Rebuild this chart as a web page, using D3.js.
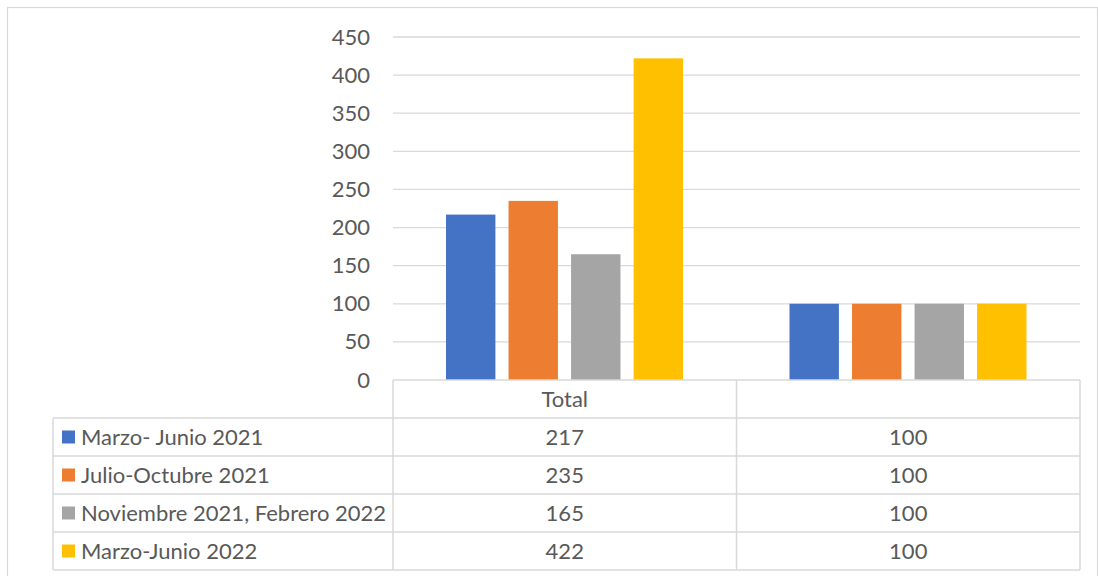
<!DOCTYPE html>
<html>
<head>
<meta charset="utf-8">
<script src="https://cdn.jsdelivr.net/npm/d3@7"></script>
<style>
  body { margin: 0; background: #fff; }
  svg text { font-family: Lato, "Open Sans", sans-serif; fill: #595959; }
</style>
</head>
<body>
<svg id="chart"></svg>
<script>
let categories = ['Total', '']
let seriesNames = ['Marzo- Junio 2021', 'Julio-Octubre 2021', 'Noviembre 2021, Febrero 2022', 'Marzo-Junio 2022']
let seriesValues = [
    [217, 100],
    [235, 100],
    [165, 100],
    [422, 100],
]
let seriesColors = ['#4472C4', '#ED7D31', '#A5A5A5', '#FFC000']
let yTicks = [0, 50, 100, 150, 200, 250, 300, 350, 400, 450]

let opts = {
    width: 1098,
    height: 576,
    left: 393,
    right: 1080,
    top: 37,
    bottom: 380,
    rowHeight: 38,
    legendLeft: 53,
    fontSize: 22,
}

let svg = d3.select('#chart')
    .attr('width', opts.width)
    .attr('height', opts.height)

// chart frame
svg.append('rect')
    .attr('x', 7.5).attr('y', 7.5)
    .attr('width', opts.width - 8).attr('height', opts.height)
    .attr('fill', 'none')
    .attr('stroke', '#d9d9d9')
    .attr('stroke-width', 1.2)

let y = d3.scaleLinear().domain([0, 450]).range([opts.bottom, opts.top])
let x = d3.scaleBand().domain(categories).range([opts.left, opts.right])
let xInner = d3.scaleBand()
    .domain(d3.range(seriesNames.length))
    .range([53, 53 + 237])
    .paddingInner(0.21)

// gridlines
svg.append('g').selectAll('line').data(yTicks.filter(d => d > 0))
    .enter().append('line')
    .attr('x1', opts.left).attr('x2', opts.right)
    .attr('y1', d => y(d)).attr('y2', d => y(d))
    .attr('stroke', '#d9d9d9')
    .attr('stroke-width', 1.3)

// y axis labels
let yAxis = d3.axisLeft(y).tickValues(yTicks).tickSize(0).tickPadding(23)
let yG = svg.append('g').attr('transform', 'translate(' + opts.left + ',0)').call(yAxis)
yG.select('.domain').remove()
yG.selectAll('text')
    .attr('font-size', opts.fontSize)
    .style('font-family', 'Lato, "Open Sans", sans-serif')
    .attr('fill', '#595959')

// bars
let groups = svg.append('g').selectAll('g').data(seriesValues)
    .enter().append('g')
    .attr('fill', (d, i) => seriesColors[i])
groups.each(function(vals, si) {
    d3.select(this).selectAll('rect').data(vals)
        .enter().append('rect')
        .attr('x', (d, ci) => x(categories[ci]) + xInner(si))
        .attr('width', xInner.bandwidth())
        .attr('y', d => y(d))
        .attr('height', d => y(0) - y(d))
})

// data table
let table = svg.append('g')
let tableBottom = opts.bottom + opts.rowHeight * (seriesNames.length + 1)
let lineStyle = sel => sel.attr('stroke', '#d9d9d9').attr('stroke-width', 1.5).attr('fill', 'none')

// horizontal lines
table.selectAll('.hl').data(d3.range(seriesNames.length + 2))
    .enter().append('line')
    .attr('x1', (d) => d <= 0 ? opts.left : opts.legendLeft)
    .attr('x2', opts.right)
    .attr('y1', d => opts.bottom + d * opts.rowHeight)
    .attr('y2', d => opts.bottom + d * opts.rowHeight)
    .call(lineStyle)
// vertical lines
let vx = [opts.left].concat(categories.map(c => x(c) + x.bandwidth()))
table.selectAll('.vl').data(vx)
    .enter().append('line')
    .attr('x1', d => d).attr('x2', d => d)
    .attr('y1', opts.bottom).attr('y2', tableBottom)
    .call(lineStyle)
table.append('line')
    .attr('x1', opts.legendLeft).attr('x2', opts.legendLeft)
    .attr('y1', opts.bottom + opts.rowHeight).attr('y2', tableBottom)
    .call(lineStyle)

// header
table.selectAll('.hdr').data(categories)
    .enter().append('text')
    .attr('x', d => x(d) + x.bandwidth() / 2)
    .attr('y', opts.bottom + opts.rowHeight / 2)
    .attr('dy', '0.35em')
    .attr('text-anchor', 'middle')
    .attr('font-size', opts.fontSize)
    .text(d => d)

// rows
seriesNames.forEach((name, si) => {
    let rowY = opts.bottom + opts.rowHeight * (si + 1) + opts.rowHeight / 2
    table.append('rect')
        .attr('x', 62).attr('y', rowY - 6.5)
        .attr('width', 13).attr('height', 13)
        .attr('fill', seriesColors[si])
    table.append('text')
        .attr('x', 81).attr('y', rowY)
        .attr('dy', '0.35em')
        .attr('font-size', opts.fontSize)
        .text(name)
    table.selectAll('.v' + si).data(seriesValues[si])
        .enter().append('text')
        .attr('x', (d, ci) => x(categories[ci]) + x.bandwidth() / 2)
        .attr('y', rowY)
        .attr('dy', '0.35em')
        .attr('text-anchor', 'middle')
        .attr('font-size', opts.fontSize)
        .text(d => d)
})
</script>
</body>
</html>
